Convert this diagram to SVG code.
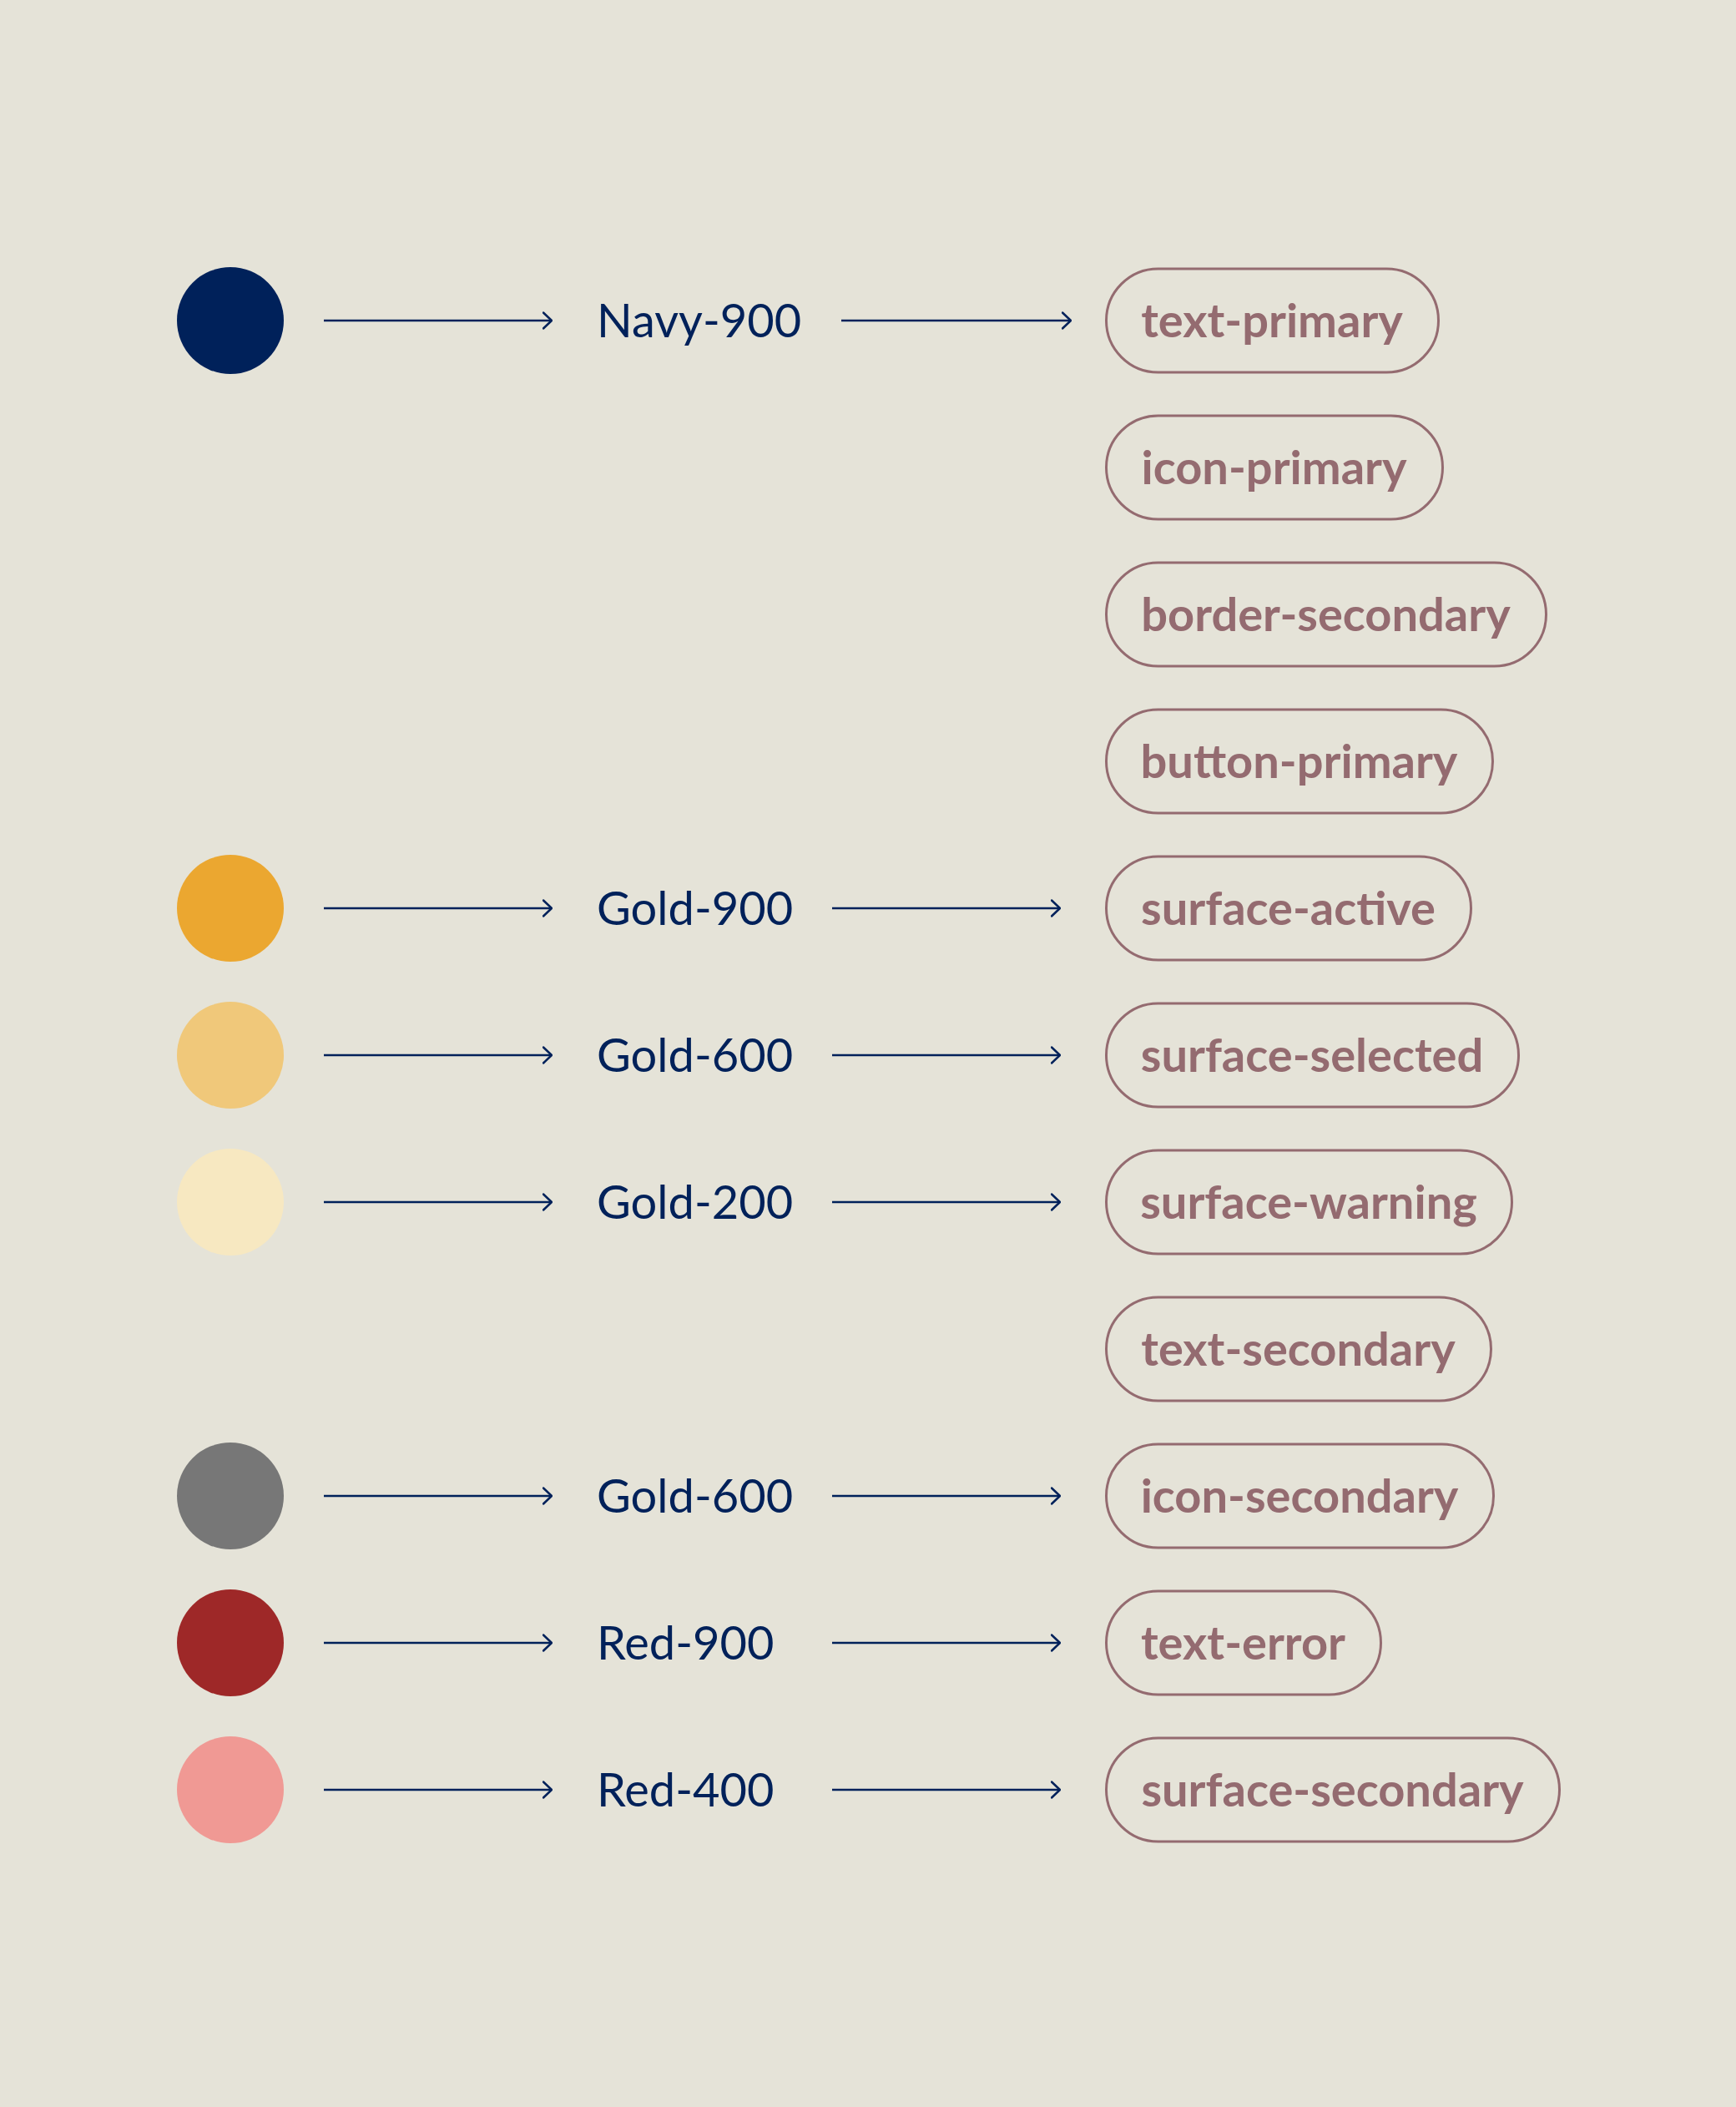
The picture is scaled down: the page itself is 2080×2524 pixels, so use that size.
<svg xmlns="http://www.w3.org/2000/svg" width="2080" height="2524" viewBox="0 0 2080 2524">
<defs>
<style>
.bg{fill:#E5E3D8}
.lbl{font-family:Lato,"Liberation Sans",sans-serif;font-size:56px;fill:#00215A}
.pill rect{fill:none;stroke:#946B70;stroke-width:3}
.pill text{font-family:Lato,"Liberation Sans",sans-serif;font-size:56px;font-weight:bold;fill:#946B70;text-anchor:middle}
.conn line{stroke:#00215A;stroke-width:2.5;fill:none}
</style>
<marker id="ah" viewBox="0 0 12 22" refX="11" refY="11" markerWidth="12" markerHeight="22" markerUnits="userSpaceOnUse" orient="auto">
<path d="M1,1.5 L11,11 L1,20.5" fill="none" stroke="#00215A" stroke-width="2.5" stroke-linecap="round" stroke-linejoin="round"/>
</marker>
</defs>
<rect class="bg" x="0" y="0" width="2080" height="2524"/>

<g id="swatches">
<circle id="sw-navy900" cx="276" cy="384" r="64" fill="#00215A"/>
<circle id="sw-gold900" cx="276" cy="1088" r="64" fill="#EBA730"/>
<circle id="sw-gold600" cx="276" cy="1264" r="64" fill="#F0C87A"/>
<circle id="sw-gold200" cx="276" cy="1440" r="64" fill="#F7E8C1"/>
<circle id="sw-gray" cx="276" cy="1792" r="64" fill="#777777"/>
<circle id="sw-red900" cx="276" cy="1968" r="64" fill="#9E2828"/>
<circle id="sw-red400" cx="276" cy="2144" r="64" fill="#F09994"/>
</g>

<g id="tokens">
<text id="t-navy900" class="lbl" x="715" y="404">Navy-900</text>
<text id="t-gold900" class="lbl" x="715" y="1108">Gold-900</text>
<text id="t-gold600" class="lbl" x="715" y="1284">Gold-600</text>
<text id="t-gold200" class="lbl" x="715" y="1460">Gold-200</text>
<text id="t-gold600b" class="lbl" x="715" y="1812">Gold-600</text>
<text id="t-red900" class="lbl" x="715" y="1988">Red-900</text>
<text id="t-red400" class="lbl" x="715" y="2164">Red-400</text>
</g>

<g id="connectors" class="conn">
<line x1="388" y1="384" x2="661" y2="384" marker-end="url(#ah)"/>
<line x1="1008" y1="384" x2="1283" y2="384" marker-end="url(#ah)"/>
<line x1="388" y1="1088" x2="661" y2="1088" marker-end="url(#ah)"/>
<line x1="997" y1="1088" x2="1270" y2="1088" marker-end="url(#ah)"/>
<line x1="388" y1="1264" x2="661" y2="1264" marker-end="url(#ah)"/>
<line x1="997" y1="1264" x2="1270" y2="1264" marker-end="url(#ah)"/>
<line x1="388" y1="1440" x2="661" y2="1440" marker-end="url(#ah)"/>
<line x1="997" y1="1440" x2="1270" y2="1440" marker-end="url(#ah)"/>
<line x1="388" y1="1792" x2="661" y2="1792" marker-end="url(#ah)"/>
<line x1="997" y1="1792" x2="1270" y2="1792" marker-end="url(#ah)"/>
<line x1="388" y1="1968" x2="661" y2="1968" marker-end="url(#ah)"/>
<line x1="997" y1="1968" x2="1270" y2="1968" marker-end="url(#ah)"/>
<line x1="388" y1="2144" x2="661" y2="2144" marker-end="url(#ah)"/>
<line x1="997" y1="2144" x2="1270" y2="2144" marker-end="url(#ah)"/>
</g>

<g id="p-text-primary" class="pill"><rect x="1325.5" y="322" width="398" height="124" rx="62"/><text x="1524" y="404">text-primary</text></g>
<g id="p-icon-primary" class="pill"><rect x="1325.5" y="498" width="403" height="124" rx="62"/><text x="1526.5" y="580">icon-primary</text></g>
<g id="p-border-secondary" class="pill"><rect x="1325.5" y="674" width="527" height="124" rx="62"/><text x="1588.5" y="756">border-secondary</text></g>
<g id="p-button-primary" class="pill"><rect x="1325.5" y="850" width="463" height="124" rx="62"/><text x="1556.5" y="932">button-primary</text></g>
<g id="p-surface-active" class="pill"><rect x="1325.5" y="1026" width="437" height="124" rx="62"/><text x="1543.5" y="1108">surface-active</text></g>
<g id="p-surface-selected" class="pill"><rect x="1325.5" y="1202" width="494" height="124" rx="62"/><text x="1572" y="1284">surface-selected</text></g>
<g id="p-surface-warning" class="pill"><rect x="1325.5" y="1378" width="486" height="124" rx="62"/><text x="1568" y="1460">surface-warning</text></g>
<g id="p-text-secondary" class="pill"><rect x="1325.5" y="1554" width="461" height="124" rx="62"/><text x="1555.5" y="1636">text-secondary</text></g>
<g id="p-icon-secondary" class="pill"><rect x="1325.5" y="1730" width="464" height="124" rx="62"/><text x="1557" y="1812">icon-secondary</text></g>
<g id="p-text-error" class="pill"><rect x="1325.5" y="1906" width="329" height="124" rx="62"/><text x="1489.5" y="1988">text-error</text></g>
<g id="p-surface-secondary" class="pill"><rect x="1325.5" y="2082" width="543" height="124" rx="62"/><text x="1596.5" y="2164">surface-secondary</text></g>
</svg>
